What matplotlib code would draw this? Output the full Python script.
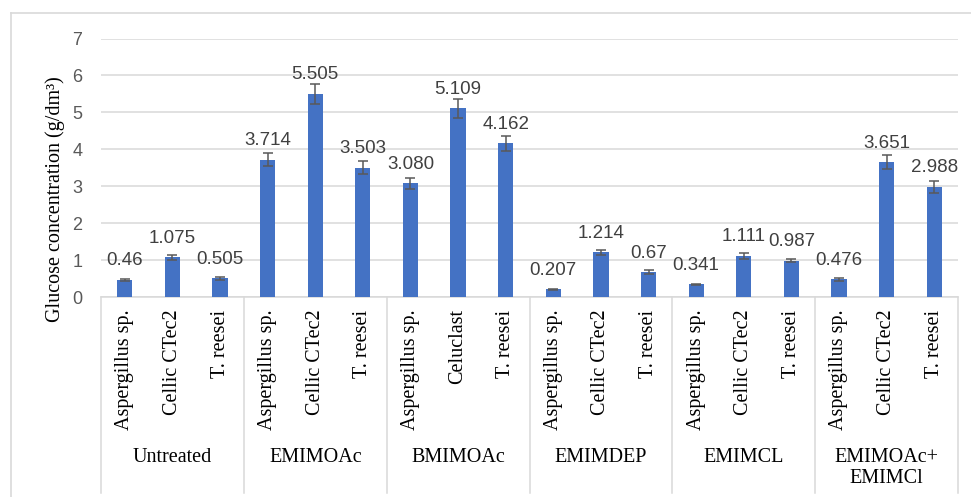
import numpy as np
import matplotlib
matplotlib.use('Agg')
import matplotlib.pyplot as plt
from matplotlib.transforms import blended_transform_factory

# treatments and enzymes (3 enzymes per treatment)
treatments = ['Untreated', 'EMIMOAc', 'BMIMOAc', 'EMIMDEP', 'EMIMCL', 'EMIMOAc+\nEMIMCl']
enzymes = [
    ['Aspergillus sp.', 'Cellic CTec2', 'T. reesei'],
    ['Aspergillus sp.', 'Cellic CTec2', 'T. reesei'],
    ['Aspergillus sp.', 'Celuclast', 'T. reesei'],
    ['Aspergillus sp.', 'Cellic CTec2', 'T. reesei'],
    ['Aspergillus sp.', 'Cellic CTec2', 'T. reesei'],
    ['Aspergillus sp.', 'Cellic CTec2', 'T. reesei'],
]
glucose = [0.46, 1.075, 0.505,
           3.714, 5.505, 3.503,
           3.080, 5.109, 4.162,
           0.207, 1.214, 0.67,
           0.341, 1.111, 0.987,
           0.476, 3.651, 2.988]
labels = ['0.46', '1.075', '0.505',
          '3.714', '5.505', '3.503',
          '3.080', '5.109', '4.162',
          '0.207', '1.214', '0.67',
          '0.341', '1.111', '0.987',
          '0.476', '3.651', '2.988']
glucose_err = [0.03, 0.07, 0.04,
               0.18, 0.27, 0.18,
               0.15, 0.25, 0.20,
               0.02, 0.07, 0.05,
               0.02, 0.07, 0.05,
               0.03, 0.19, 0.16]

serif = 'Liberation Serif'
sans = 'Liberation Sans'

fig = plt.figure(figsize=(9.71, 4.97), dpi=100)
W, H = 971, 497
ax = fig.add_axes([101 / W, 1 - 297 / H, (958 - 101) / W, (297 - 38.5) / H])

# outer chart border
fig.add_artist(plt.Line2D([11 / W, 11 / W], [0, 1 - 13 / H], color='#d9d9d9', lw=1.2))
fig.add_artist(plt.Line2D([11 / W, 1], [1 - 13 / H, 1 - 13 / H], color='#d9d9d9', lw=1.2))

x = np.arange(len(glucose))
ax.bar(x, glucose, width=0.32, color='#4472c4', zorder=3)
ax.errorbar(x, glucose, yerr=glucose_err, fmt='none', ecolor='#595959',
            elinewidth=1.1, capsize=3.8, capthick=1.1, zorder=4)

for xi, v, s in zip(x, glucose, labels):
    ax.annotate(s, (xi, v), xytext=(0, 10.5), textcoords='offset points',
                ha='center', va='baseline', fontsize=13.5, family=sans, color='#404040')

ax.set_xlim(-0.5, len(glucose) - 0.5)
ax.set_ylim(0, 7)
ax.set_yticks(range(8))
ax.yaxis.grid(True, color='#d9d9d9', lw=1.1, zorder=0)
ax.tick_params(axis='y', length=0, pad=13.5, labelsize=13, labelcolor='#595959')
for t in ax.get_yticklabels():
    t.set_family(sans)

for side in ['top', 'right', 'left']:
    ax.spines[side].set_visible(False)
ax.spines['bottom'].set_color('#d9d9d9')
ax.spines['bottom'].set_linewidth(1.1)

sub_labels = [e for grp in enzymes for e in grp]
ax.set_xticks(x)
ax.set_xticklabels(sub_labels, rotation=90, family=serif, fontsize=14.5)
ax.tick_params(axis='x', length=0, pad=9)

# multi-level category axis: separators and treatment names
trans = blended_transform_factory(ax.transData, ax.transAxes)
for b in np.arange(-0.5, len(glucose), 3):
    ax.plot([b, b], [0, -0.758], transform=trans, color='#d9d9d9', lw=1.1, clip_on=False)
for i, name in enumerate(treatments):
    ax.text(3 * i + 1, -0.584, name, transform=trans, ha='center', va='top',
            family=serif, fontsize=14.5, linespacing=1.15)

ax.set_ylabel('Glucose concentration (g/dm³)', family=serif, fontsize=14.5)
ax.yaxis.set_label_coords(-0.042, 0.38)

fig.savefig('out.png', dpi=100, facecolor='white')
